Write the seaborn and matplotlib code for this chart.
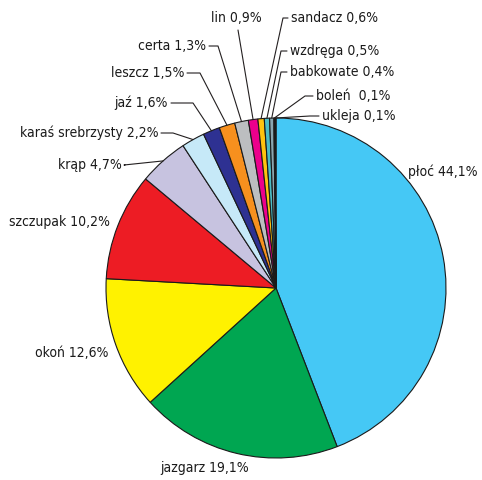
import numpy as np
import matplotlib
matplotlib.use("Agg")
import matplotlib.pyplot as plt
from matplotlib import font_manager
import seaborn as sns

# Species share of the catch (%)
species = ["płoć", "jazgarz", "okoń", "szczupak", "krąp", "karaś srebrzysty",
           "jaź", "leszcz", "certa", "lin", "sandacz", "wzdręga",
           "babkowate", "boleń", "ukleja"]
shares = [44.1, 19.1, 12.6, 10.2, 4.7, 2.2, 1.6, 1.5, 1.3, 0.9, 0.6, 0.5, 0.4, 0.1, 0.1]
label_texts = ["płoć 44,1%", "jazgarz 19,1%", "okoń 12,6%", "szczupak 10,2%",
               "krąp 4,7%", "karaś srebrzysty 2,2%", "jaź 1,6%", "leszcz 1,5%",
               "certa 1,3%", "lin 0,9%", "sandacz 0,6%", "wzdręga 0,5%",
               "babkowate 0,4%", "boleń  0,1%", "ukleja 0,1%"]

colors = ["#45C8F5", "#00A651", "#FFF200", "#ED1C24", "#C7C3E0", "#C6E9F8",
          "#2E3192", "#F7901E", "#BCBEC0", "#EC008C", "#FFC20E", "#4BBCC4",
          "#8AA6B0", "#F4A3B0", "#231F20"]

# Label placement in pixel units (x, y from top), alignment, and leader elbow
W, H = 482, 480
layout = [
    ((408, 172), "left", None),
    ((160, 468), "left", None),
    ((108, 353), "right", None),
    ((110, 222), "right", None),
    ((122, 165), "right", (124, 165)),
    ((158, 133), "right", (173, 133)),
    ((168, 103), "right", (193, 103)),
    ((184, 73), "right", (200, 73)),
    ((206, 46), "right", (218, 46)),
    ((262, 18), "right", (238, 30)),
    ((291, 18), "left", (283, 18)),
    ((290, 51), "left", (281, 51)),
    ((290, 72), "left", (281, 72)),
    ((316, 96), "left", (305, 96)),
    ((322, 116), "left", (310, 116)),
]

sns.set_style("white")
installed = {f.name for f in font_manager.fontManager.ttflist}
narrow = "Liberation Sans Narrow" if "Liberation Sans Narrow" in installed else "DejaVu Sans"
plt.rcParams["font.family"] = [narrow, "DejaVu Sans"]
plt.rcParams["font.stretch"] = "condensed"

fig = plt.figure(figsize=(W / 100, H / 100), dpi=100)
ax = fig.add_axes([0, 0, 1, 1])

cx, cy, r = 276, H - 288, 170
wedges, _ = ax.pie(shares, colors=colors, startangle=90, counterclock=False,
                   center=(cx, cy), radius=r, frame=True,
                   wedgeprops=dict(edgecolor="#1a1a1a", linewidth=0.8))
ax.set_xlim(0, W)
ax.set_ylim(0, H)
ax.set_aspect("equal")
ax.axis("off")

fs = 10.5 if narrow != "DejaVu Sans" else 10
for w, txt, ((tx, ty), ha, elbow) in zip(wedges, label_texts, layout):
    ty_d = H - ty
    ax.text(tx, ty_d, txt, ha=ha, va="center", fontsize=fs, color="#1a1a1a")
    if elbow is None:
        continue
    mid = np.deg2rad((w.theta1 + w.theta2) / 2)
    ex, ey = cx + r * np.cos(mid), cy + r * np.sin(mid)
    start_x = tx + (3 if ha == "right" else -3)
    if txt.startswith("lin"):
        pts = [(238, H - 30), (ex, ey)]
    else:
        pts = [(start_x, ty_d), (elbow[0], H - elbow[1]), (ex, ey)]
    xs, ys = zip(*pts)
    ax.plot(xs, ys, color="#231F20", linewidth=0.8)

fig.savefig("out.png", dpi=100, facecolor="white")
